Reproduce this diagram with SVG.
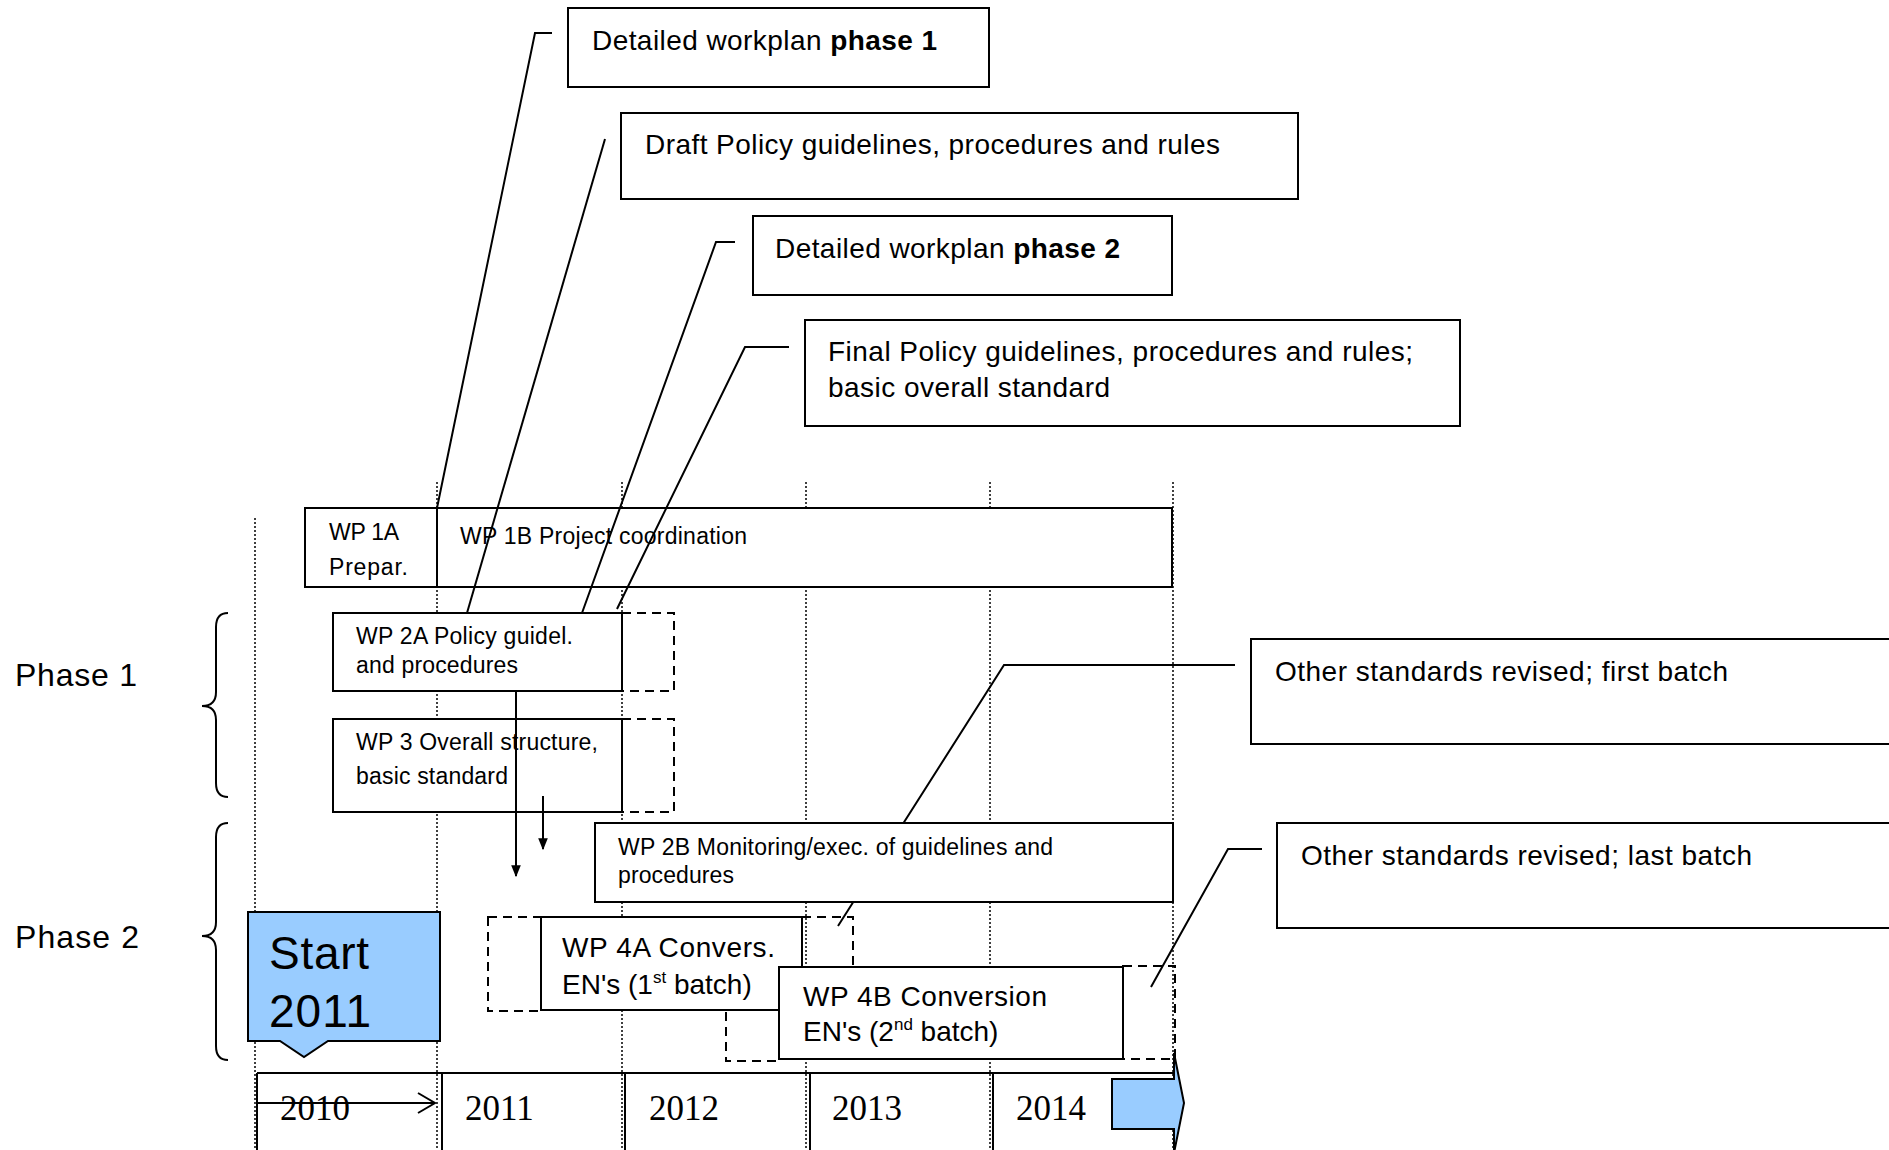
<svg xmlns="http://www.w3.org/2000/svg" width="1889" height="1150" viewBox="0 0 1889 1150">
<defs>
<style>
.box{fill:#fff;stroke:#000;stroke-width:2}
.dash{fill:none;stroke:#000;stroke-width:2;stroke-dasharray:9 6}
.grid{stroke:#000;stroke-width:1.5;stroke-dasharray:2 2;fill:none}
.ln{stroke:#000;stroke-width:2;fill:none}
.t{font-family:"Liberation Sans",Arial,sans-serif;fill:#000}
.big{font-size:28px}
.wp{font-size:23px}
.wp4{font-size:28px}
.ph{font-size:32px}
.yr{font-family:"Liberation Serif","Times New Roman",serif;font-size:35px;fill:#000}
.blue{fill:#99CCFF;stroke:#000;stroke-width:2}
</style>
<marker id="ah" viewBox="0 0 10 10" refX="9" refY="5" markerWidth="6" markerHeight="8" orient="auto" markerUnits="strokeWidth">
<path d="M0,1 L10,5 L0,9 Z" fill="#000"/>
</marker>
</defs>
<rect width="1889" height="1150" fill="#fff"/>

<g id="grid">
<line class="grid" x1="255" y1="518" x2="255" y2="1150"/>
<line class="grid" x1="437" y1="482" x2="437" y2="1150"/>
<line class="grid" x1="622" y1="482" x2="622" y2="1150"/>
<line class="grid" x1="806" y1="482" x2="806" y2="1150"/>
<line class="grid" x1="990" y1="482" x2="990" y2="1150"/>
<line class="grid" x1="1173" y1="482" x2="1173" y2="1150"/>
</g>

<g id="wp1a">
<rect class="box" x="305" y="508" width="132" height="79"/>
<text class="t wp" x="329" y="540" textLength="70">WP 1A</text>
<text class="t wp" x="329" y="575" textLength="79">Prepar.</text>
</g>
<g id="wp1b">
<rect class="box" x="437" y="508" width="735" height="79"/>
<text class="t wp" x="460" y="544" textLength="287">WP 1B Project coordination</text>
</g>

<g id="connectors">
<polyline class="ln" points="552,33 535,33 437,508"/>
<line class="ln" x1="605" y1="139" x2="467" y2="613"/>
<polyline class="ln" points="735,242 716,242 582,613"/>
<polyline class="ln" points="789,347 745,347 617,609"/>
<polyline class="ln" points="1235,665 1004,665 838,926"/>
<polyline class="ln" points="1262,849 1228,849 1151,987"/>
</g>

<g id="callout-a">
<rect class="box" x="568" y="8" width="421" height="79"/>
<text class="t big" x="592" y="50" textLength="345">Detailed workplan <tspan font-weight="bold">phase 1</tspan></text>
</g>
<g id="callout-b">
<rect class="box" x="621" y="113" width="677" height="86"/>
<text class="t big" x="645" y="154" textLength="575">Draft Policy guidelines, procedures and rules</text>
</g>
<g id="callout-c">
<rect class="box" x="753" y="216" width="419" height="79"/>
<text class="t big" x="775" y="258" textLength="345">Detailed workplan <tspan font-weight="bold">phase 2</tspan></text>
</g>
<g id="callout-d">
<rect class="box" x="805" y="320" width="655" height="106"/>
<text class="t big" x="828" y="361" textLength="585">Final Policy guidelines, procedures and rules;</text>
<text class="t big" x="828" y="397" textLength="282">basic overall standard</text>
</g>
<g id="callout-e">
<rect class="box" x="1251" y="639" width="700" height="105"/>
<text class="t big" x="1275" y="681" textLength="453">Other standards revised; first batch</text>
</g>
<g id="callout-f">
<rect class="box" x="1277" y="823" width="700" height="105"/>
<text class="t big" x="1301" y="865" textLength="451">Other standards revised; last batch</text>
</g>

<g id="wp2a">
<rect class="box" x="333" y="613" width="289" height="78"/>
<rect class="dash" x="622" y="613" width="52" height="78"/>
<text class="t wp" x="356" y="644" textLength="217">WP 2A Policy guidel.</text>
<text class="t wp" x="356" y="673" textLength="162">and procedures</text>
</g>
<g id="wp3">
<rect class="box" x="333" y="719" width="289" height="93"/>
<rect class="dash" x="622" y="719" width="52" height="93"/>
<text class="t wp" x="356" y="750" textLength="242">WP 3 Overall structure,</text>
<text class="t wp" x="356" y="784" textLength="152">basic standard</text>
</g>

<g id="arrows">
<line class="ln" x1="516" y1="691" x2="516" y2="876" marker-end="url(#ah)"/>
<line class="ln" x1="543" y1="796" x2="543" y2="849" marker-end="url(#ah)"/>
</g>

<g id="wp2b">
<rect class="box" x="595" y="823" width="578" height="79"/>
<text class="t wp" x="618" y="855" textLength="435">WP 2B Monitoring/exec. of guidelines and</text>
<text class="t wp" x="618" y="883" textLength="116">procedures</text>
</g>

<g id="wp4a">
<rect class="dash" x="726" y="967" width="53" height="94"/>
<rect class="dash" x="488" y="917" width="53" height="94"/>
<rect class="box" x="541" y="917" width="261" height="93"/>
<rect class="dash" x="802" y="917" width="51" height="93"/>
<text class="t wp4" x="562" y="957" textLength="213">WP 4A Convers.</text>
<text class="t wp4" x="562" y="994">EN's (1<tspan font-size="17" dy="-11">st</tspan><tspan dy="11"> batch)</tspan></text>
</g>
<g id="wp4b">
<rect class="box" x="779" y="967" width="344" height="92"/>
<rect class="dash" x="1123" y="966" width="52" height="93"/>
<text class="t wp4" x="803" y="1006" textLength="244">WP 4B Conversion</text>
<text class="t wp4" x="803" y="1041">EN's (2<tspan font-size="17" dy="-11">nd</tspan><tspan dy="11"> batch)</tspan></text>
</g>

<g id="phase1">
<path class="ln" d="M228,613 Q216,613 216,627 L216,692 Q216,706 202,706 Q216,706 216,720 L216,783 Q216,797 228,797"/>
<text class="t ph" x="15" y="686" textLength="122">Phase 1</text>
</g>
<g id="phase2">
<path class="ln" d="M228,823 Q216,823 216,837 L216,922 Q216,936 202,936 Q216,936 216,950 L216,1046 Q216,1060 228,1060"/>
<text class="t ph" x="15" y="948" textLength="124">Phase 2</text>
</g>

<g id="timeline">
<line class="ln" x1="257" y1="1073" x2="1175" y2="1073"/>
<line class="ln" x1="257" y1="1073" x2="257" y2="1150"/>
<line class="ln" x1="442" y1="1073" x2="442" y2="1150"/>
<line class="ln" x1="625" y1="1073" x2="625" y2="1150"/>
<line class="ln" x1="810" y1="1073" x2="810" y2="1150"/>
<line class="ln" x1="993" y1="1073" x2="993" y2="1150"/>
<text class="yr" x="280" y="1120">2010</text>
<text class="yr" x="465" y="1120">2011</text>
<text class="yr" x="649" y="1120">2012</text>
<text class="yr" x="832" y="1120">2013</text>
<text class="yr" x="1016" y="1120">2014</text>
<line class="ln" x1="257" y1="1103" x2="434" y2="1103"/>
<polyline class="ln" points="418,1093 435,1103 418,1113"/>
<polygon class="blue" points="1112,1079 1174,1079 1174,1053 1184,1103 1174,1153 1174,1129 1112,1129"/>
</g>

<g id="start">
<path class="blue" d="M248,912 H440 V1041 H328 L304,1057 L280,1041 H248 Z"/>
<text class="t" font-size="46" x="269" y="969" textLength="100">Start</text>
<text class="t" font-size="46" x="269" y="1027" textLength="102">2011</text>
</g>
</svg>
